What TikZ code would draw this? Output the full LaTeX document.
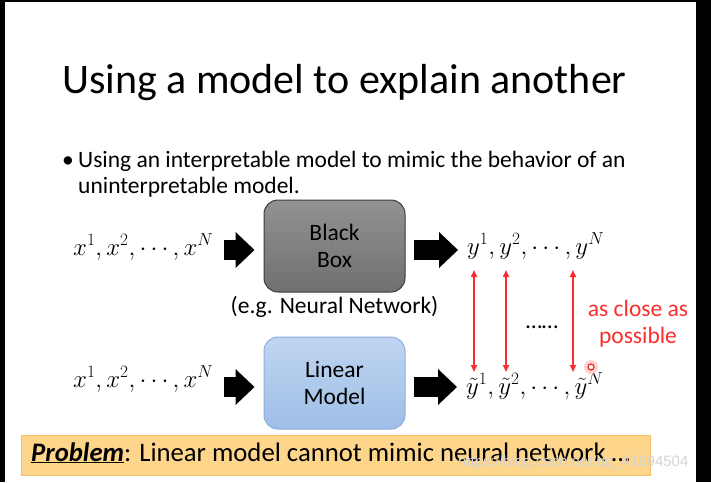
\documentclass[tikz,border=0pt]{standalone}
\usepackage{fontspec}
\setmainfont{Carlito}
\newfontfamily\wmfont{Liberation Sans}
\usetikzlibrary{arrows.meta,positioning}
\definecolor{bbtop}{RGB}{146,146,146}
\definecolor{bbbot}{RGB}{112,112,112}
\definecolor{bbline}{RGB}{60,60,60}
\definecolor{lmtop}{RGB}{192,213,240}
\definecolor{lmbot}{RGB}{158,190,232}
\definecolor{lmline}{RGB}{140,174,222}
\definecolor{probfill}{RGB}{253,214,140}
\definecolor{probline}{RGB}{244,190,100}
\definecolor{closered}{RGB}{250,45,45}
\definecolor{wmgray}{RGB}{212,212,212}
\newcommand{\slidefont}{\fontsize{23.5}{27}\selectfont}
\newcommand{\mathrowfont}{\fontsize{23}{27}\selectfont}

\begin{document}
\begin{tikzpicture}[x=1pt,y=-1pt,>=Stealth,
    model/.style={rounded corners=14pt,minimum width=141pt,minimum height=92pt,align=center,line width=1pt,font=\slidefont},
    txt/.style={inner sep=0pt,font=\slidefont},
    row/.style={inner sep=0pt,anchor=base west,font=\mathrowfont},
    fat/.style={line width=20pt,-{Triangle[length=19pt,width=36pt,line width=0pt]}},
    closearr/.style={closered,line width=1.6pt,{Triangle[length=7pt,width=6pt]}-{Triangle[length=7pt,width=6pt]}}]
  \useasboundingbox (0,0) rectangle (711,482);
  % screenshot frame
  \fill[black] (0,0) rectangle (5,482);
  \fill[black] (696,0) rectangle (711,482);
  \fill[black] (0,0) rectangle (711,2);

  \node[txt,anchor=base west,font=\fontsize{42}{48}\selectfont] (title) at (62,93) {Using a model to explain another};
  \node[txt,anchor=base west] (bul) at (62,167) {\textbullet};
  \node[txt,anchor=base west,align=left,font=\fontsize{23.5}{26}\selectfont] (intro) at (78,193)
    {Using an interpretable model to mimic the behavior of an\\uninterpretable model.};

  % the two models
  \node[model,draw=bbline,top color=bbtop,bottom color=bbbot] (bb) at (334.5,246) {Black\\Box};
  \node[model,draw=lmline,top color=lmtop,bottom color=lmbot] (lm) at (334.5,383) {Linear\\Model};
  \node[txt,below=4pt of bb] (eg) {(e.g. Neural Network)};

  \node[row] (xtop) at (73,255) {$x^1,x^2,\cdots,x^N$};
  \node[row] (xbot) at (73,387) {$x^1,x^2,\cdots,x^N$};
  \node[row] (ytop) at (467,254) {$y^1,y^2,\cdots,y^N$};
  \node[row] (ybot) at (466,394) {$\tilde y^1,\tilde y^2,\cdots,\tilde y^N$};

  \coordinate (bbin) at ([yshift=-4pt]bb.west);
  \coordinate (bbout) at ([yshift=-4pt]bb.east);
  \coordinate (lmin) at ([yshift=-4pt]lm.west);
  \coordinate (lmout) at ([yshift=-4pt]lm.east);
  \draw[fat,shorten <=10pt,shorten >=9pt] (xtop.east |- bbin) -- (bbin);
  \draw[fat,shorten <=8pt,shorten >=9pt] (bbout) -- (ytop.west |- bbout);
  \draw[fat,shorten <=10pt,shorten >=9pt] (xbot.east |- lmin) -- (lmin);
  \draw[fat,shorten <=8pt,shorten >=9pt] (lmout) -- (ybot.west |- lmout);

  % as close as possible
  \foreach \k/\px in {1/474,2/506,N/573}{
    \coordinate (up\k) at (\px,270);
    \coordinate (dn\k) at (\px,372);
    \draw[closearr] (up\k) -- (dn\k);
  }
  \node[txt] (gap) at (542,327) {……};
  \node[txt,text=closered,align=center] (close) at (638,324) {as close as\\possible};
  \fill[closered!22] (591,367) circle (7pt);
  \draw[closered,line width=1.3pt,fill=white] (591,367) circle (3pt);

  % problem bar
  \node[draw=probline,fill=probfill,line width=0.8pt,minimum width=629pt,minimum height=40pt,anchor=north west,inner sep=0pt] (prob) at (21,435) {};
  \node[txt,anchor=base west,font=\fontsize{26.7}{30}\selectfont] (probtxt) at (31,461)
    {\underline{\textbf{\textit{Problem}}}: Linear model cannot mimic neural network …};
  \node[txt,anchor=base west,font=\wmfont\fontsize{15}{15}\selectfont,text=wmgray] (wm) at (458,466) {https://blog.csdn.net/qq\_41694504};
\end{tikzpicture}
\end{document}
